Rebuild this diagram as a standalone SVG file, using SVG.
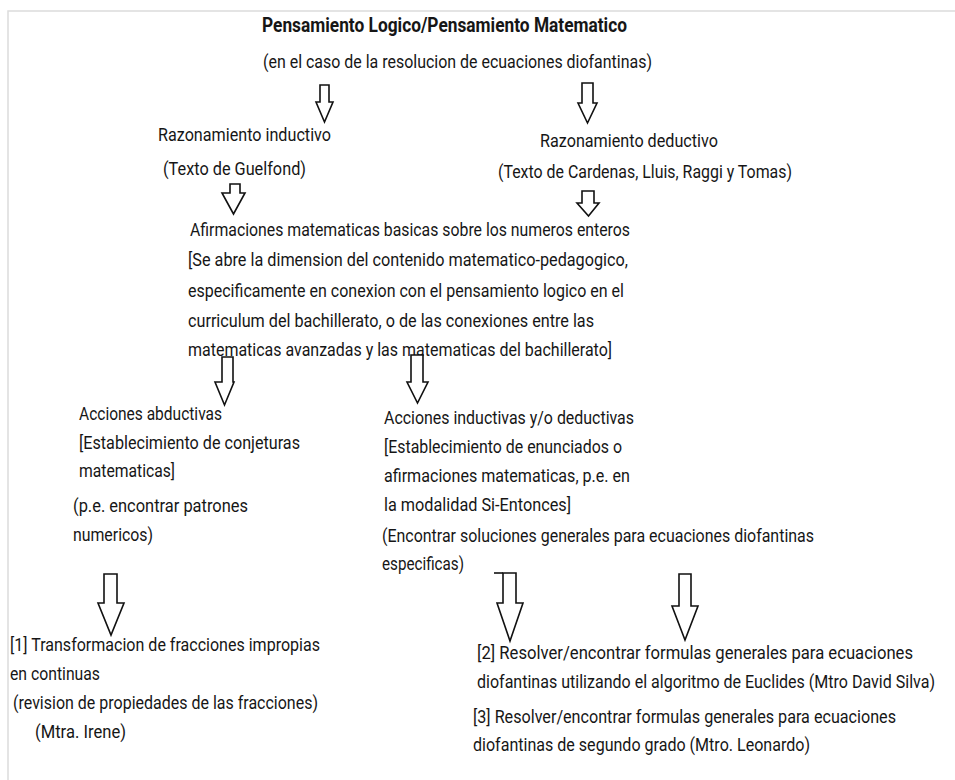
<svg xmlns="http://www.w3.org/2000/svg" width="955" height="780" viewBox="0 0 955 780">
<style>
  .t { font-family: Roboto, "Liberation Sans", sans-serif; font-size: 19px; fill: #161616; }
  .s17 { font-size: 17px; }
  .s16 { font-size: 16px; }
  .title { font-family: Roboto, "Liberation Sans", sans-serif; font-size: 21px; font-weight: bold; fill: #161616; }
  .arrow { fill: #ffffff; stroke: #111111; stroke-width: 1.6; stroke-linejoin: miter; }
  .frame { stroke: #dcdcdc; stroke-width: 1.5; fill: none; }
</style>
<rect width="955" height="780" fill="#ffffff"/>
<path class="frame" d="M8,780 L8,11 L955,11"/>

<g id="title">
  <text class="title" x="262" y="32" textLength="365" lengthAdjust="spacingAndGlyphs">Pensamiento Logico/Pensamiento Matematico</text>
  <text class="t" x="263" y="68" textLength="389" lengthAdjust="spacingAndGlyphs">(en el caso de la resolucion de ecuaciones diofantinas)</text>
</g>

<g id="razonamiento-inductivo">
  <text class="t" x="158" y="141" textLength="173" lengthAdjust="spacingAndGlyphs">Razonamiento inductivo</text>
  <text class="t" x="163" y="175" textLength="143" lengthAdjust="spacingAndGlyphs">(Texto de Guelfond)</text>
</g>

<g id="razonamiento-deductivo">
  <text class="t" x="540" y="147" textLength="178" lengthAdjust="spacingAndGlyphs">Razonamiento deductivo</text>
  <text class="t" x="498" y="178" textLength="294" lengthAdjust="spacingAndGlyphs">(Texto de Cardenas, Lluis, Raggi y Tomas)</text>
</g>

<g id="afirmaciones">
  <text class="t" x="190" y="236" textLength="440" lengthAdjust="spacingAndGlyphs">Afirmaciones matematicas basicas sobre los numeros enteros</text>
  <text class="t" x="188" y="266" textLength="440" lengthAdjust="spacingAndGlyphs">[Se abre la dimension del contenido matematico-pedagogico,</text>
  <text class="t" x="188" y="297" textLength="436" lengthAdjust="spacingAndGlyphs">especificamente en conexion con el pensamiento logico en el</text>
  <text class="t" x="188" y="327" textLength="406" lengthAdjust="spacingAndGlyphs">curriculum del bachillerato, o de las conexiones entre las</text>
  <text class="t" x="188" y="356" textLength="424" lengthAdjust="spacingAndGlyphs">matematicas avanzadas y las matematicas del bachillerato]</text>
</g>

<g id="acciones-abductivas">
  <text class="t" x="79" y="420" textLength="143" lengthAdjust="spacingAndGlyphs">Acciones abductivas</text>
  <text class="t" x="79" y="449" textLength="221" lengthAdjust="spacingAndGlyphs">[Establecimiento de conjeturas</text>
  <text class="t" x="79" y="477" textLength="96" lengthAdjust="spacingAndGlyphs">matematicas]</text>
  <text class="t" x="73" y="512" textLength="175" lengthAdjust="spacingAndGlyphs">(p.e. encontrar patrones</text>
  <text class="t" x="73" y="541" textLength="80" lengthAdjust="spacingAndGlyphs">numericos)</text>
</g>

<g id="acciones-inductivas">
  <text class="t" x="384" y="424" textLength="250" lengthAdjust="spacingAndGlyphs">Acciones inductivas y/o deductivas</text>
  <text class="t" x="384" y="453" textLength="238" lengthAdjust="spacingAndGlyphs">[Establecimiento de enunciados o</text>
  <text class="t" x="384" y="482" textLength="246" lengthAdjust="spacingAndGlyphs">afirmaciones matematicas, p.e. en</text>
  <text class="t" x="384" y="511" textLength="187" lengthAdjust="spacingAndGlyphs">la modalidad Si-Entonces]</text>
  <text class="t" x="382" y="542" textLength="432" lengthAdjust="spacingAndGlyphs">(Encontrar soluciones generales para ecuaciones diofantinas</text>
  <text class="t" x="382" y="570" textLength="82" lengthAdjust="spacingAndGlyphs">especificas)</text>
</g>

<g id="item-1">
  <text class="t" x="10" y="651" textLength="310" lengthAdjust="spacingAndGlyphs">[1] Transformacion de fracciones impropias</text>
  <text class="t" x="10" y="680" textLength="90" lengthAdjust="spacingAndGlyphs">en continuas</text>
  <text class="t" x="13" y="709" textLength="305" lengthAdjust="spacingAndGlyphs">(revision de propiedades de las fracciones)</text>
  <text class="t" x="35" y="738" textLength="91" lengthAdjust="spacingAndGlyphs">(Mtra. Irene)</text>
</g>

<g id="item-2">
  <text class="t s17" transform="translate(477,659) scale(1,1.1176)" x="0" y="0" textLength="436" lengthAdjust="spacingAndGlyphs">[2] Resolver/encontrar formulas generales para ecuaciones</text>
  <text class="t s16" transform="translate(477,688) scale(1,1.1875)" x="0" y="0" textLength="458" lengthAdjust="spacingAndGlyphs">diofantinas utilizando el algoritmo de Euclides (Mtro David Silva)</text>
</g>

<g id="item-3">
  <text class="t s17" transform="translate(473,723) scale(1,1.1176)" x="0" y="0" textLength="423" lengthAdjust="spacingAndGlyphs">[3] Resolver/encontrar formulas generales para ecuaciones</text>
  <text class="t" x="473" y="751" textLength="337" lengthAdjust="spacingAndGlyphs">diofantinas de segundo grado (Mtro. Leonardo)</text>
</g>

<g id="connectors">
  <polygon class="arrow" points="320,85 329,85 329,102 333,102 324.5,122 316,102 320,102"/>
  <polygon class="arrow" points="582,83 593,83 593,103 597,103 587.5,123 578,103 582,103"/>
  <polygon class="arrow" points="230,184 240,184 240,193 245,193 233.5,214 222,193 230,193"/>
  <polygon class="arrow" points="582,191 594,191 594,203 599,203 588.5,216 577,203 582,203"/>
  <polygon class="arrow" points="222,357 233,357 233,382 234,382 224.5,405 215,382 222,382"/>
  <polygon class="arrow" points="411,355 423,355 423,382 428,382 417.5,403 407,382 411,382"/>
  <polygon class="arrow" points="104,574 117,574 117,603 124,603 111,635 98,603 104,603"/>
  <polygon class="arrow" points="503,573 516,573 516,603 523,603 510,641 497,603 503,603"/>
  <line class="arrow" x1="494" y1="573" x2="503" y2="573"/>
  <polygon class="arrow" points="679,574 691,574 691,606 698,606 685,640 672,606 679,606"/>
</g>
</svg>
